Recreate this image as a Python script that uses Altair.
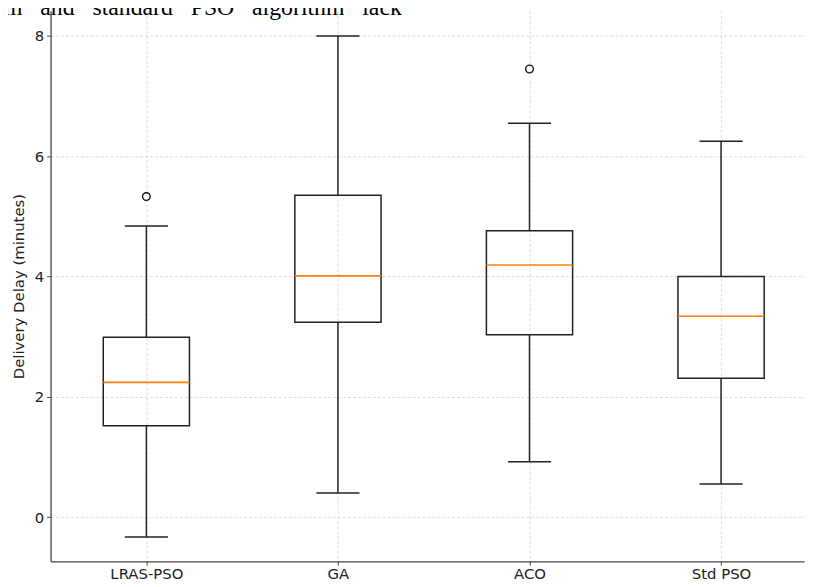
import altair as alt
import pandas as pd

# ---- data ----
categories = ["LRAS-PSO", "GA", "ACO", "Std PSO"]
whisker_low = [-0.33, 0.40, 0.92, 0.55]
q1 = [1.52, 3.24, 3.03, 2.31]
median = [2.24, 4.01, 4.19, 3.34]
q3 = [2.99, 5.35, 4.76, 4.00]
whisker_high = [4.84, 8.00, 6.55, 6.25]

outlier_cats = ["LRAS-PSO", "ACO"]
outlier_vals = [5.33, 7.45]

y_ticks = [0, 2, 4, 6, 8]
caption = "m\u2002 and\u2002 standard\u2002 PSO\u2002 algorithm\u2002 lack"

box_w = 0.45
cap_w = box_w / 2

pos = [i + 1 for i in range(len(categories))]
df = pd.DataFrame({
    "cat": categories,
    "pos": pos,
    "left": [p - box_w / 2 for p in pos],
    "right": [p + box_w / 2 for p in pos],
    "capl": [p - cap_w / 2 for p in pos],
    "capr": [p + cap_w / 2 for p in pos],
    "wlo": whisker_low,
    "q1": q1,
    "med": median,
    "q3": q3,
    "whi": whisker_high,
})
odf = pd.DataFrame({
    "pos": [categories.index(c) + 1 for c in outlier_cats],
    "val": outlier_vals,
})

label_expr = "[" + ",".join("'" + c + "'" for c in categories) + "][datum.value-1]"

xscale = alt.Scale(domain=[0.5, 4.433], nice=False, zero=False)
yscale = alt.Scale(domain=[-0.736, 8.417], nice=False, zero=False)

xaxis = alt.Axis(values=pos, labelExpr=label_expr, title=None,
                 grid=True, gridDash=[3, 2], gridColor="#d4d4d4", gridWidth=0.8,
                 domainColor="#444444", domainWidth=1.3, tickColor="#444444",
                 tickSize=4, labelPadding=1, labelFont="DejaVu Sans", labelFontSize=15,
                 labelColor="#222222", labelBaseline="top")
yaxis = alt.Axis(values=y_ticks, format="d", title="Delivery Delay (minutes)",
                 grid=True, gridDash=[3, 2], gridColor="#d4d4d4", gridWidth=0.8,
                 domainColor="#444444", domainWidth=1.3, tickColor="#444444",
                 tickSize=4, labelPadding=3, labelFont="DejaVu Sans", labelFontSize=15,
                 labelColor="#222222", titleFont="DejaVu Sans", titleFontSize=15,
                 titleFontWeight="normal", titleColor="#222222",
                 titleX=-32, titleY=278, titleAngle=-90, titleBaseline="middle",
                 titleAlign="center")

base = alt.Chart(df)

box = base.mark_rect(fillOpacity=0, stroke="#222222", strokeWidth=1.5).encode(
    x=alt.X("left:Q", scale=xscale, axis=xaxis),
    x2="right:Q",
    y=alt.Y("q1:Q", scale=yscale, axis=yaxis),
    y2="q3:Q",
)
med = base.mark_rule(color="#ff7f0e", strokeWidth=1.6).encode(
    x="left:Q", x2="right:Q", y="med:Q")
wup = base.mark_rule(color="#222222", strokeWidth=1.5).encode(
    x="pos:Q", y="q3:Q", y2="whi:Q")
wdn = base.mark_rule(color="#222222", strokeWidth=1.5).encode(
    x="pos:Q", y="q1:Q", y2="wlo:Q")
cup = base.mark_rule(color="#222222", strokeWidth=1.5).encode(
    x="capl:Q", x2="capr:Q", y="whi:Q")
cdn = base.mark_rule(color="#222222", strokeWidth=1.5).encode(
    x="capl:Q", x2="capr:Q", y="wlo:Q")
pts = alt.Chart(odf).mark_point(shape="circle", filled=False, color="#111111",
                                 strokeWidth=1.4, size=60, opacity=1).encode(
    x="pos:Q", y="val:Q")

cap_df = pd.DataFrame({"t": [caption]})
cap_txt = alt.Chart(cap_df).mark_text(font="Liberation Serif", fontSize=24, align="left",
                                      baseline="alphabetic", color="#000000").encode(
    x=alt.value(-47), y=alt.value(4), text="t:N")

chart = alt.layer(box, wup, wdn, cup, cdn, med, pts, cap_txt).properties(
    width=761, height=556,
    autosize=alt.AutoSizeParams(type="none"),
    padding={"left": 43, "top": 0, "right": 2, "bottom": 20},
    background="white",
).configure_view(strokeWidth=0)

chart.save("out.html", embed_options={"renderer": "svg", "actions": False})
